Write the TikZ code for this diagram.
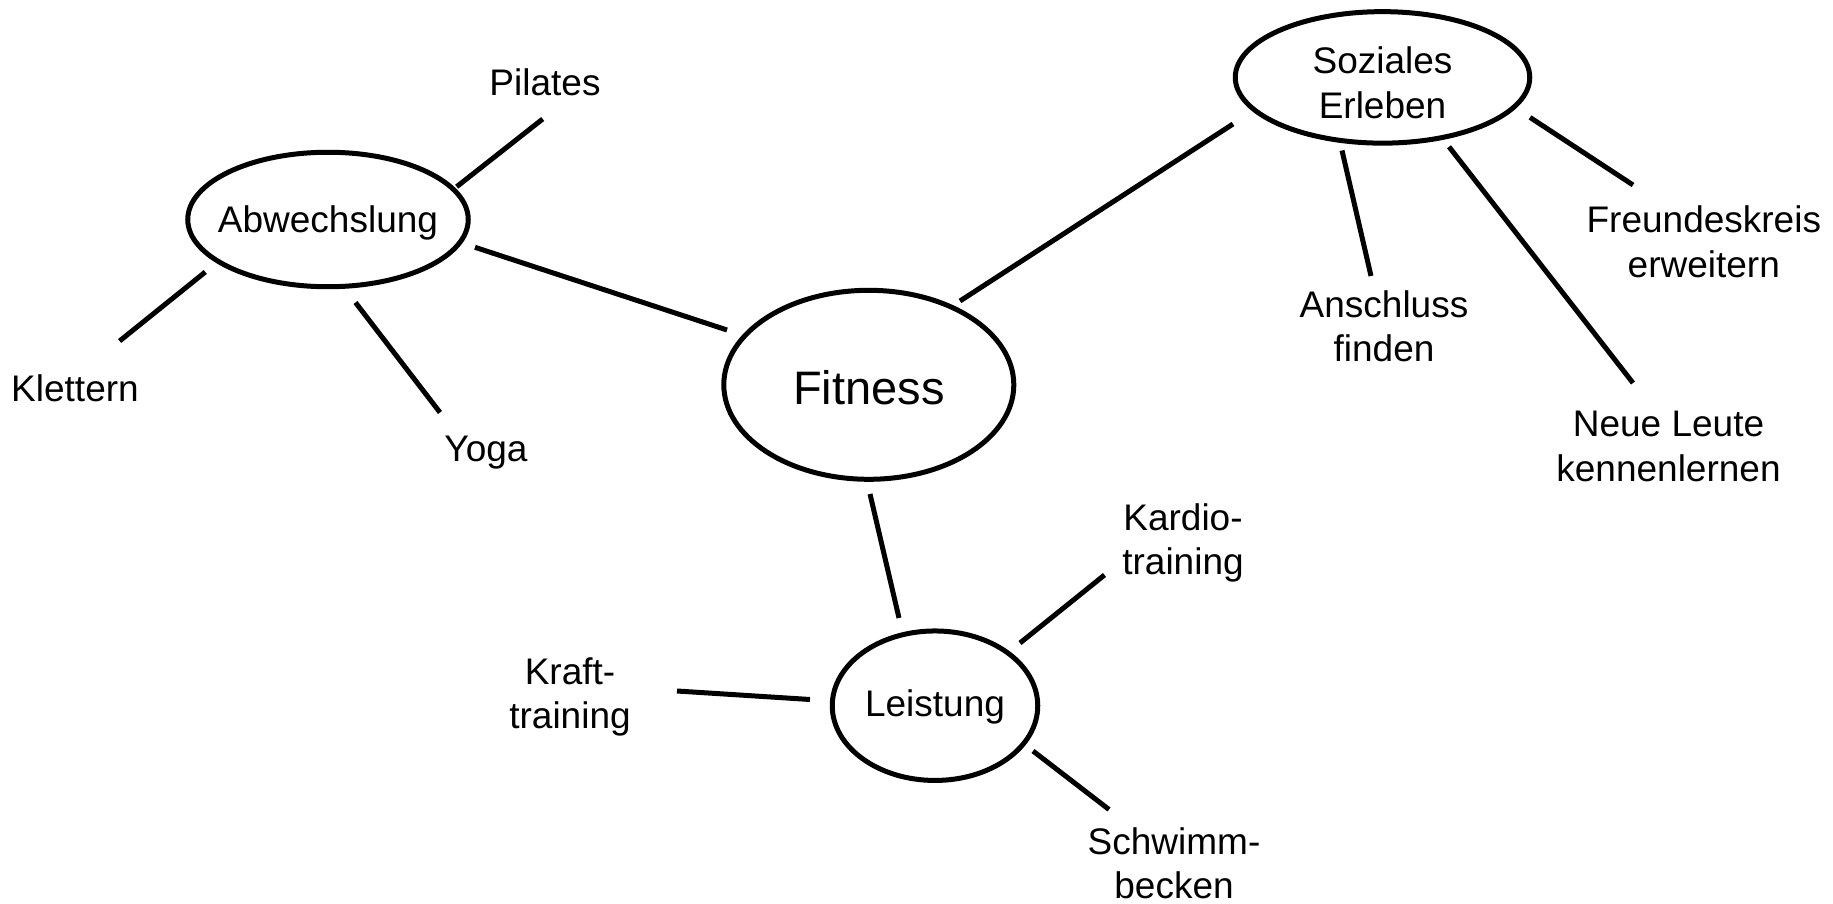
\documentclass[tikz,border=0pt]{standalone}
\usepackage{fontspec}
\setmainfont{Liberation Sans}
\usetikzlibrary{shapes.geometric,calc}
\newcommand\mltxt[2][0pt]{\makebox[0pt]{\raisebox{#1}[0pt][0pt]{\begin{tabular}[t]{@{}c@{}}#2\end{tabular}}}}
\begin{document}
\begin{tikzpicture}[x=1pt,y=-1pt,
  every node/.style={inner sep=0pt, outer sep=0pt, font=\fontsize{37}{44.3}\selectfont},
  ell/.style={draw, ellipse, line width=5pt},
  conn/.style={line width=5pt}]
\path[fill=white, use as bounding box] (0,0) rectangle (1833,904);
% ellipse nodes
\node[ell, minimum width=290pt, minimum height=189pt, font=\fontsize{47}{56}\selectfont] (fit) at (868.8,384.8) {\mltxt[-19.2pt]{Fitness}};
\node[ell, minimum width=280.5pt, minimum height=134.5pt] (abw) at (328,219.5) {\mltxt[-13.2pt]{Abwechslung}};
\node[ell, minimum width=294.5pt, minimum height=131.5pt] (soz) at (1382.5,77.4) {\mltxt[3.4pt]{Soziales\\Erleben}};
\node[ell, minimum width=205.5pt, minimum height=149.5pt] (lei) at (935,705.7) {\mltxt[-11pt]{Leistung}};
% labels (node centre = first baseline)
\node (pil) at (545,96) {\mltxt{Pilates}};
\node (klet) at (75,401.7) {\mltxt{Klettern}};
\node (yoga) at (486,461) {\mltxt{Yoga}};
\node (ansch) at (1384,317.3) {\mltxt{Anschluss\\finden}};
\node (freund) at (1703.8,232.7) {\mltxt{Freundeskreis\\erweitern}};
\node (neue) at (1668.5,436.7) {\mltxt{Neue Leute\\kennenlernen}};
\node (kardio) at (1183,530) {\mltxt{Kardio-\\training}};
\node (kraft) at (570,684) {\mltxt{Kraft-\\training}};
\node (schw) at (1174,854) {\mltxt{Schwimm-\\becken}};
% connectors
\draw[conn] ($(abw)+(147,27.8)$) -- ($(fit)+(-141.8,-54.8)$);
\draw[conn] ($(fit)+(91.2,-83.8)$) -- ($(soz)+(-149.5,46.6)$);
\draw[conn] ($(fit)+(1.2,109.2)$) -- ($(lei)+(-36,-87.7)$);
\draw[conn] ($(abw)+(128.7,-32.8)$) -- ($(pil)+(-2.3,23)$);
\draw[conn] ($(abw)+(-122.7,52.5)$) -- ($(klet)+(44.6,-60.7)$);
\draw[conn] ($(abw)+(27.5,83)$) -- ($(yoga)+(-46,-48.5)$);
\draw[conn] ($(soz)+(-40.5,73.1)$) -- ($(ansch)+(-13,-41.3)$);
\draw[conn] ($(soz)+(66.5,69.4)$) -- ($(neue)+(-35.5,-53.7)$);
\draw[conn] ($(soz)+(147.5,40)$) -- ($(freund)+(-70.8,-47.7)$);
\draw[conn] ($(lei)+(85,-62.7)$) -- ($(kardio)+(-78.5,45)$);
\draw[conn] ($(lei)+(-125,-6.2)$) -- ($(kraft)+(107,7)$);
\draw[conn] ($(lei)+(98,45.3)$) -- ($(schw)+(-65,-44.5)$);
\end{tikzpicture}
\end{document}
